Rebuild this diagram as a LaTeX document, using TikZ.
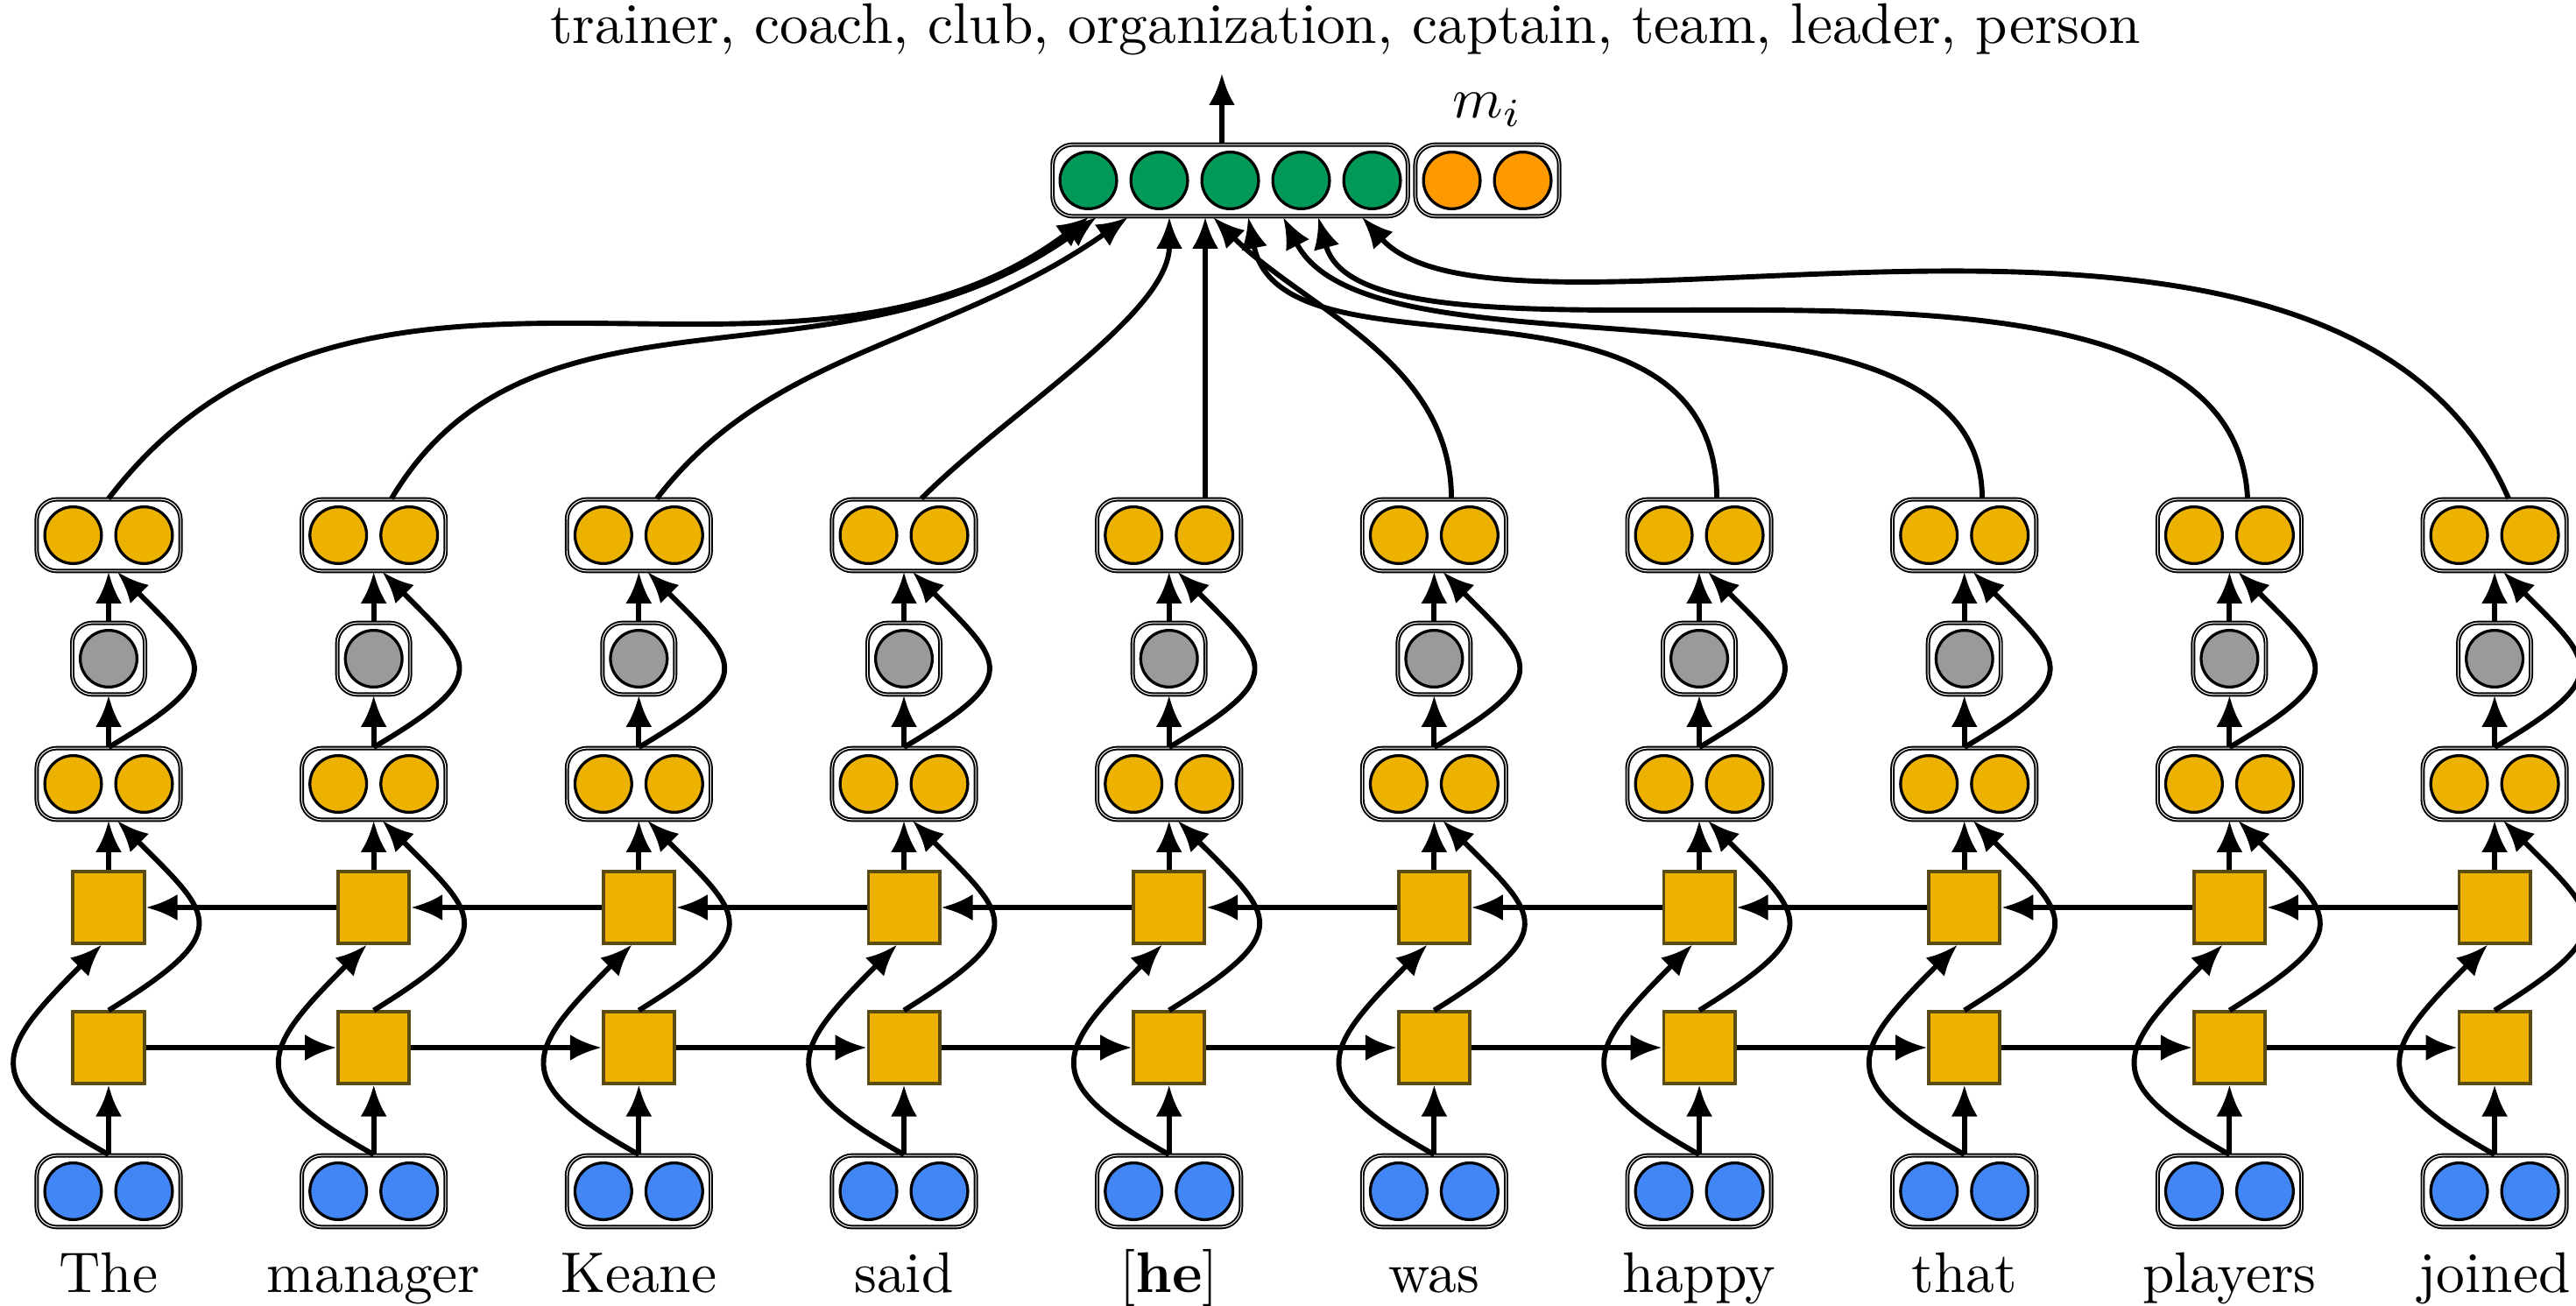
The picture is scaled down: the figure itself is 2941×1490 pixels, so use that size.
\documentclass[tikz,border=0pt]{standalone}
\usetikzlibrary{arrows.meta}
\definecolor{cblue}{HTML}{4285F4}
\definecolor{cyellow}{HTML}{EDB100}
\definecolor{cgreen}{HTML}{009957}
\definecolor{corange}{HTML}{FF9900}
\definecolor{cgrey}{HTML}{9A9A9A}
\definecolor{sqborder}{RGB}{90,75,20}
\begin{document}
\begin{tikzpicture}[x=0.15284pt, y=-0.15284pt,
  vbox/.style={draw=black, line width=0.3pt, double=white, double distance=0.15pt,
    rounded corners=3.5pt, minimum width=25.1pt, minimum height=12.5pt, inner sep=0pt},
  gvbox/.style={vbox, minimum width=12.7pt},
  obox/.style={vbox, minimum width=62pt},
  dot/.style={circle, draw=black, line width=0.5pt, minimum size=9.9pt, inner sep=0pt},
  sq/.style={draw=sqborder, fill=cyellow, line width=0.6pt, minimum size=12.4pt, inner sep=0pt},
  word/.style={anchor=base, inner sep=0pt},
  arr/.style={-{Latex[length=5.5pt,width=4.6pt]}, line width=0.9pt}]
\useasboundingbox (0,0) rectangle (2941,1490);

\foreach \i/\w in {1/The,2/manager,3/Keane,4/said,5/{[\textbf{he}]},6/was,7/happy,8/that,9/players,10/joined}{
  \pgfmathsetmacro\cx{124+302.67*(\i-1)}
  \pgfmathsetmacro\xl{\cx-40.5}
  \pgfmathsetmacro\xr{\cx+40.5}
  \node[vbox] (b\i) at (\cx,1360) {};
  \node[dot,fill=cblue] (b\i-1) at (\xl,1360) {};
  \node[dot,fill=cblue] (b\i-2) at (\xr,1360) {};
  \node[sq] (l\i) at (\cx,1196) {};
  \node[sq] (u\i) at (\cx,1036) {};
  \node[vbox] (m\i) at (\cx,895) {};
  \node[dot,fill=cyellow] (m\i-1) at (\xl,895) {};
  \node[dot,fill=cyellow] (m\i-2) at (\xr,895) {};
  \node[gvbox] (g\i) at (\cx,752) {};
  \node[dot,fill=cgrey] (g\i-1) at (\cx,752) {};
  \node[vbox] (t\i) at (\cx,611) {};
  \node[dot,fill=cyellow] (t\i-1) at (\xl,611) {};
  \node[dot,fill=cyellow] (t\i-2) at (\xr,611) {};
  \node[word] (w\i) at (\cx,1475) {\w};
  % straight arrows
  \draw[arr] (b\i.north) -- (l\i.south);
  \draw[arr] (u\i.north) -- (m\i.south);
  \draw[arr] (m\i.north) -- (g\i.south);
  \draw[arr] (g\i.north) -- (t\i.south);
  % curved skip arrows
  \draw[arr] (b\i.north) .. controls +(-150,-84) and +(-122,122) .. ([xshift=-1.2pt]u\i.south);
  \draw[arr] (l\i.north) .. controls +(145,-90) and +(110,110) .. ([xshift=1.5pt]m\i.south);
  \draw[arr] (m\i.north) .. controls +(135,-80) and +(105,105) .. ([xshift=1.5pt]t\i.south);
}

\foreach \i in {1,...,9}{
  \pgfmathtruncatemacro\j{\i+1}
  \draw[arr] (l\i.east) -- (l\j.west);
  \draw[arr] (u\j.west) -- (u\i.east);
}

% output vectors
\node[obox] (gbox) at (1404.5,206) {};
\foreach \k in {1,...,5}{
  \node[dot,fill=cgreen] (gbox-\k) at ({1404.5+81*(\k-3)},206) {};
}
\node[vbox] (obx) at (1698,206) {};
\node[dot,fill=corange] (obx-1) at (1657.5,206) {};
\node[dot,fill=corange] (obx-2) at (1738.5,206) {};
\node[anchor=base, inner sep=0pt] (mi) at (1698,135) {$m_i$};

\node[anchor=base, inner sep=0pt] (types) at (1536,50) {trainer, coach, club, organization, captain, team, leader, person};
\coordinate (otip) at (1395,84);
\draw[arr] (gbox.north -| otip) -- (otip);

% attention connectors
\draw[arr] (t1.north) .. controls +(282,-369) and +(-345,257) .. (1243,0 |- gbox.south);
\draw[arr] (447,0 |- t2.north) .. controls +(161,-271) and +(-294,212) .. (1252,0 |- gbox.south);
\draw[arr] (750,0 |- t3.north) .. controls +(130,-170) and +(-203,143) .. (1288,0 |- gbox.south);
\draw[arr] (1052,0 |- t4.north) .. controls +(100,-100) and +(0,110) .. (1335,0 |- gbox.south);
\draw[arr] (1376,0 |- t5.north) -- (1376,0 |- gbox.south);
\draw[arr] (1657,0 |- t6.north) .. controls +(0,-157) and +(104,104) .. (1385,0 |- gbox.south);
\draw[arr] (1960,0 |- t7.north) .. controls +(0,-290) and +(40,200) .. (1425,0 |- gbox.south);
\draw[arr] (2263,0 |- t8.north) .. controls +(0,-286) and +(103,201) .. (1465,0 |- gbox.south);
\draw[arr] (2566,0 |- t9.north) .. controls +(-18,-369) and +(58,214) .. (1505,0 |- gbox.south);
\draw[arr] (2864,0 |- t10.north) .. controls +(-198,-456) and +(166,184) .. (1555,0 |- gbox.south);
\end{tikzpicture}
\end{document}
